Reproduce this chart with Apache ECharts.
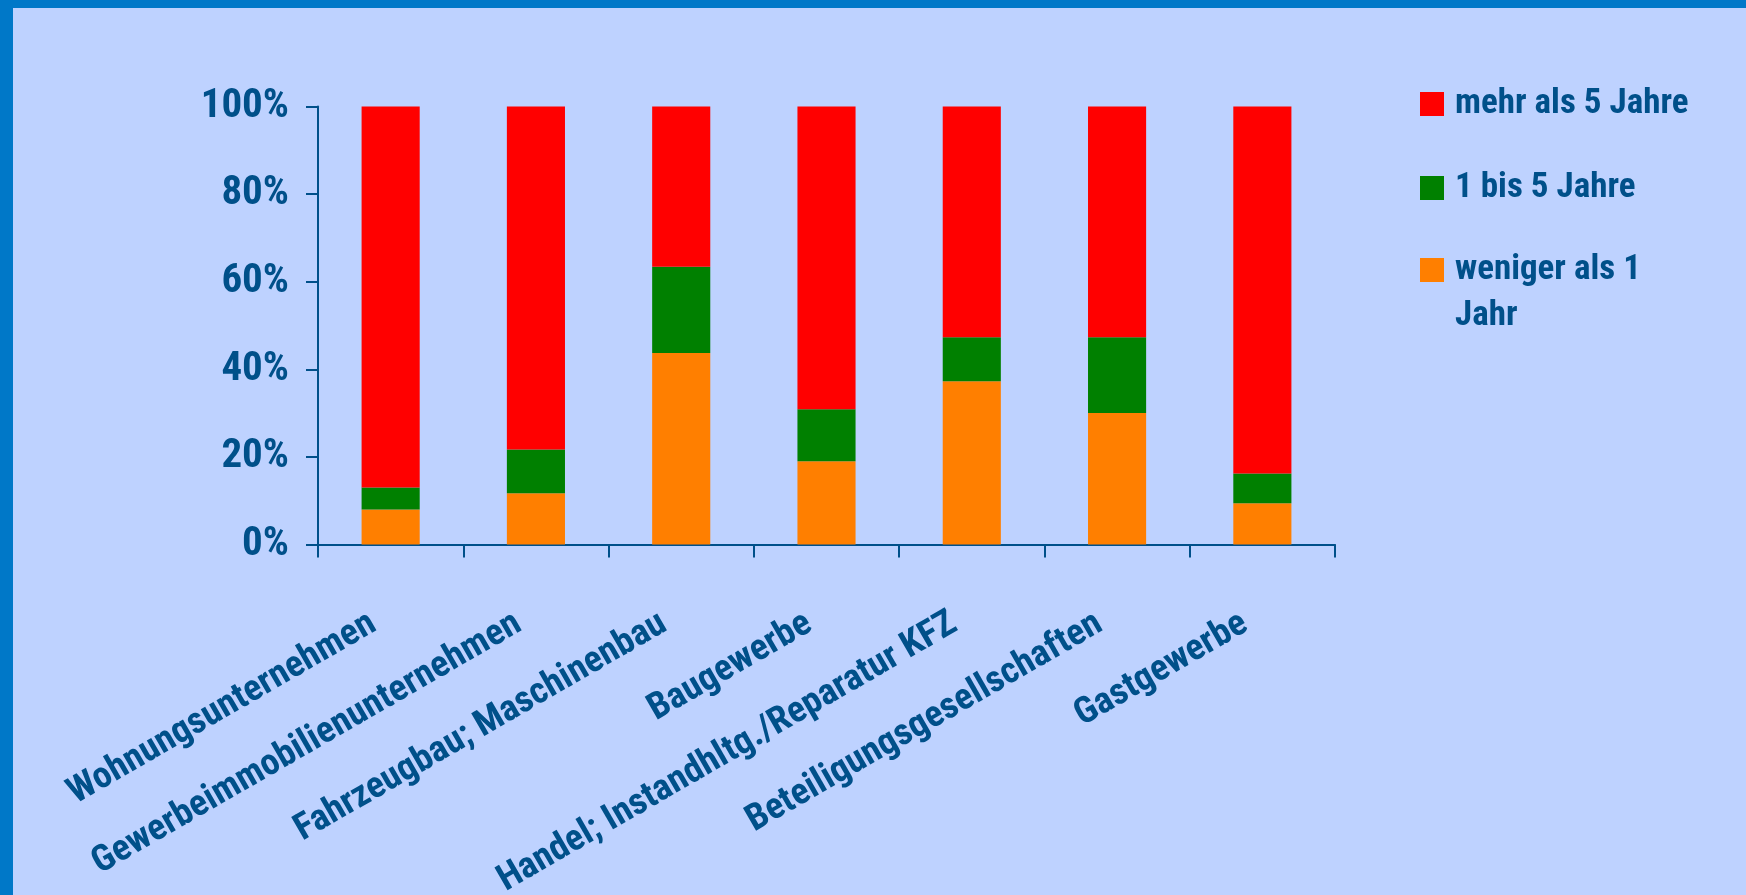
<!DOCTYPE html>
<html>
<head>
<meta charset="utf-8">
<script src="https://cdn.jsdelivr.net/npm/echarts@6/dist/echarts.min.js"></script>
<style>
html,body{margin:0;padding:0;background:#BED2FF;}
#c{width:1746px;height:895px;}
</style>
</head>
<body>
<div id="c"></div>
<script>
const categories = ["Wohnungsunternehmen", "Gewerbeimmobilienunternehmen", "Fahrzeugbau; Maschinenbau", "Baugewerbe", "Handel; Instandhltg./Reparatur KFZ", "Beteiligungsgesellschaften", "Gastgewerbe"];
const wenigerAls1 = [8.0, 11.7, 43.7, 19.0, 37.3, 30.0, 9.4];
const einsBis5 = [5.0, 10.0, 19.7, 11.9, 10.0, 17.3, 6.8];
const mehrAls5 = [87.0, 78.3, 36.8, 69.1, 52.7, 52.7, 83.8];
const yTicks = [0, 20, 40, 60, 80, 100];
const seriesNames = ["mehr als 5 Jahre", "1 bis 5 Jahre", "weniger als 1\nJahr"];

const FONT = "Roboto, 'Liberation Sans', Arial, sans-serif";
const WEIGHT = 'bold condensed';
const TXT = '#00508A';

const chart = echarts.init(document.getElementById('c'), null, {renderer: 'canvas'});
function legendFor(name, top, pad) {
  return {
    orient: 'vertical', left: 1420, top: top, padding: 0,
    itemWidth: 24, itemHeight: 24, selectedMode: false,
    icon: 'rect',
    data: [{name: name, textStyle: {padding: pad}}],
    formatter: function (n) { return n.indexOf('\n') >= 0 ? '\n' + n : n; },
    textStyle: {fontFamily: FONT, fontWeight: WEIGHT, fontSize: 35, color: TXT, lineHeight: 46}
  };
}
chart.setOption({
  backgroundColor: '#BED2FF',
  animation: false,
  graphic: [
    {type: 'rect', left: 0, top: 0, shape: {width: 13, height: 895}, style: {fill: '#0078C8'}, z: 100},
    {type: 'rect', left: 0, top: 0, shape: {width: 1746, height: 8}, style: {fill: '#0078C8'}, z: 100}
  ],
  legend: [
    legendFor(seriesNames[0], 81, [0, 0, 0, 6]),
    legendFor(seriesNames[1], 165, [0, 0, 0, 6]),
    legendFor(seriesNames[2], 201, [0, 0, 0, 6])
  ],
  grid: {left: 318, right: 411, top: 106.5, bottom: 350.5, containLabel: false, outerBoundsMode: 'none'},
  xAxis: {
    type: 'category', data: categories,
    axisLine: {lineStyle: {color: TXT, width: 2}},
    axisTick: {show: true, length: 13, lineStyle: {color: TXT, width: 2}},
    axisLabel: {interval: 0, rotate: 30, margin: 67, padding: [0, 20, 0, 0], color: TXT, fontFamily: FONT, fontWeight: WEIGHT, fontSize: 37}
  },
  yAxis: {
    type: 'value', min: 0, max: 100, interval: 20,
    axisLine: {show: true, lineStyle: {color: TXT, width: 2}},
    axisTick: {show: true, length: 12, lineStyle: {color: TXT, width: 2}},
    splitLine: {show: false},
    axisLabel: {margin: 29, color: TXT, fontFamily: FONT, fontWeight: WEIGHT, fontSize: 41,
      formatter: function (v) { return yTicks.indexOf(v) >= 0 ? v + '%' : ''; }}
  },
  series: [
    {name: seriesNames[2], type: 'bar', stack: 's', data: wenigerAls1, barWidth: '40%', itemStyle: {color: '#FF7F00'}},
    {name: seriesNames[1], type: 'bar', stack: 's', data: einsBis5, barWidth: '40%', itemStyle: {color: '#008000'}},
    {name: seriesNames[0], type: 'bar', stack: 's', data: mehrAls5, barWidth: '40%', itemStyle: {color: '#FF0000'}}
  ]
});
</script>
</body>
</html>
